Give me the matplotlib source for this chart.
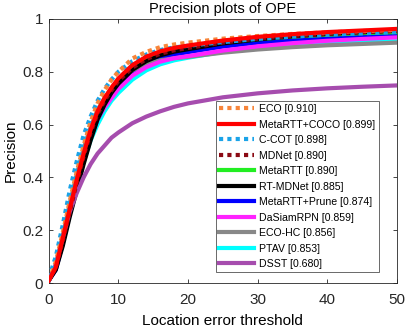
import matplotlib
matplotlib.use("Agg")
import matplotlib.pyplot as plt

plt.rcParams['font.family'] = ['Liberation Sans', 'DejaVu Sans']

thresholds = [0, 1, 2, 3, 4, 5, 6, 7, 8, 9, 10, 12, 14, 16, 18, 20, 25, 30, 35, 40, 45, 50]

eco = [0.01, 0.08, 0.19, 0.31, 0.42, 0.52, 0.61, 0.68, 0.73, 0.77, 0.80, 0.85, 0.875, 0.893, 0.903, 0.910, 0.925, 0.935, 0.943, 0.949, 0.954, 0.958]
metartt_coco = [0.01, 0.06, 0.17, 0.28, 0.39, 0.49, 0.58, 0.65, 0.70, 0.74, 0.775, 0.825, 0.857, 0.877, 0.89, 0.899, 0.918, 0.932, 0.942, 0.950, 0.956, 0.962]
ccot = [0.02, 0.10, 0.22, 0.35, 0.46, 0.56, 0.63, 0.69, 0.735, 0.77, 0.80, 0.84, 0.865, 0.882, 0.892, 0.898, 0.912, 0.924, 0.933, 0.940, 0.945, 0.950]
mdnet = [0.01, 0.06, 0.16, 0.27, 0.38, 0.48, 0.57, 0.64, 0.69, 0.73, 0.765, 0.815, 0.848, 0.868, 0.881, 0.890, 0.910, 0.925, 0.935, 0.943, 0.949, 0.954]
metartt = [0.01, 0.06, 0.16, 0.27, 0.37, 0.47, 0.56, 0.63, 0.685, 0.725, 0.76, 0.812, 0.846, 0.867, 0.881, 0.890, 0.909, 0.923, 0.933, 0.940, 0.946, 0.950]
rtmdnet = [0.01, 0.05, 0.14, 0.25, 0.35, 0.45, 0.54, 0.62, 0.675, 0.72, 0.755, 0.807, 0.84, 0.862, 0.876, 0.885, 0.907, 0.922, 0.934, 0.943, 0.950, 0.956]
prune = [0.01, 0.05, 0.15, 0.26, 0.36, 0.46, 0.55, 0.62, 0.67, 0.71, 0.745, 0.797, 0.83, 0.851, 0.865, 0.874, 0.895, 0.910, 0.920, 0.928, 0.935, 0.940]
dasiam = [0.01, 0.06, 0.16, 0.27, 0.37, 0.47, 0.555, 0.62, 0.665, 0.70, 0.735, 0.785, 0.817, 0.838, 0.851, 0.859, 0.880, 0.896, 0.908, 0.917, 0.924, 0.930]
ecohc = [0.01, 0.07, 0.18, 0.30, 0.41, 0.51, 0.59, 0.655, 0.70, 0.735, 0.765, 0.805, 0.829, 0.843, 0.851, 0.856, 0.872, 0.884, 0.893, 0.900, 0.905, 0.910]
ptav = [0.01, 0.06, 0.16, 0.27, 0.37, 0.46, 0.54, 0.60, 0.65, 0.69, 0.72, 0.77, 0.805, 0.828, 0.843, 0.853, 0.875, 0.889, 0.899, 0.906, 0.911, 0.915]
dsst = [0.01, 0.07, 0.17, 0.27, 0.34, 0.40, 0.45, 0.49, 0.52, 0.55, 0.57, 0.605, 0.63, 0.65, 0.667, 0.680, 0.703, 0.718, 0.729, 0.737, 0.743, 0.748]

labels = ['ECO [0.910]', 'MetaRTT+COCO [0.899]', 'C-COT [0.898]', 'MDNet [0.890]',
          'MetaRTT [0.890]', 'RT-MDNet [0.885]', 'MetaRTT+Prune [0.874]',
          'DaSiamRPN [0.859]', 'ECO-HC [0.856]', 'PTAV [0.853]', 'DSST [0.680]']
series = [eco, metartt_coco, ccot, mdnet, metartt, rtmdnet, prune, dasiam, ecohc, ptav, dsst]
colors = ['#f7853a', '#ff0000', '#1aa3e8', '#8b0a14', '#22ee22', '#000000',
          '#0000ff', '#ff22ff', '#888888', '#00ffff', '#a64dae']
styles = [':', '-', ':', ':', '-', '-', '-', '-', '-', '-', '-']
zorders = [9, 10, 8, 7, 4, 5, 3, 3.5, 3.2, 2, 6]

fig = plt.figure(figsize=(4.07, 3.31), dpi=100)
ax = fig.add_axes([0.120, 0.145, 0.855, 0.798])

handles = []
for y, lab, c, ls, z in zip(series, labels, colors, styles, zorders):
    h, = ax.plot(thresholds, y, color=c, linestyle=ls, linewidth=3.0, label=lab, zorder=z)
    if ls == ':':
        h.set_dashes([1.0, 1.0])
        h.set_dash_capstyle('butt')
    handles.append(h)

ax.set_xlim(0, 50)
ax.set_ylim(0, 1)
ax.set_xticks([0, 10, 20, 30, 40, 50])
ax.set_yticks([0, 0.2, 0.4, 0.6, 0.8, 1])
ax.set_yticklabels(['0', '0.2', '0.4', '0.6', '0.8', '1'])
ax.tick_params(direction='in', length=3, labelsize=11, top=True, right=True, width=0.6,
               colors='#262626')
ax.tick_params(axis='x', pad=7)
ax.tick_params(axis='y', pad=4)
for s in ax.spines.values():
    s.set_linewidth(0.6)
    s.set_color('#262626')
ax.set_xlabel('Location error threshold', fontsize=11, labelpad=5)
ax.set_ylabel('Precision', fontsize=11, labelpad=3)
ax.set_title('Precision plots of OPE', fontsize=10.5, pad=4)

leg = fig.legend(handles=handles, loc='upper left', bbox_to_anchor=(216/407, 1 - 101/331),
                 fontsize=7.6, frameon=True, fancybox=False, edgecolor='#262626',
                 handlelength=3.3, handletextpad=0.5, labelspacing=0.52, borderpad=0.3,
                 borderaxespad=0)
leg.get_frame().set_linewidth(0.6)
leg.set_zorder(20)

fig.savefig('out.png', dpi=100)
